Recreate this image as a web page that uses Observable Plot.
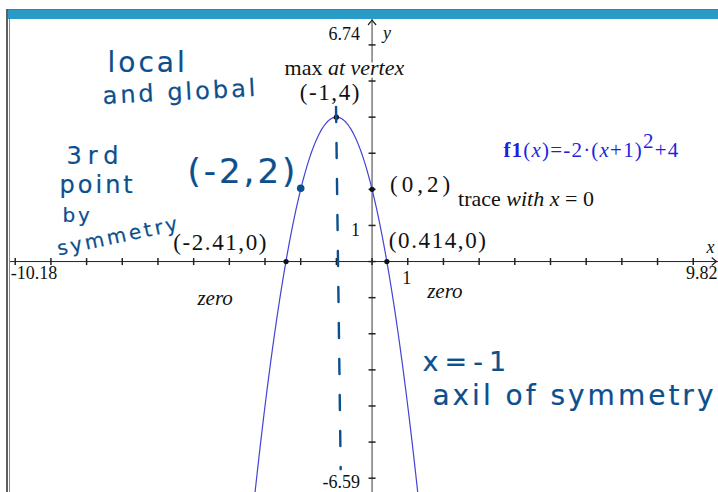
<!DOCTYPE html>
<html>
<head>
<meta charset="utf-8">
<script src="https://cdn.jsdelivr.net/npm/d3@7"></script>
<script src="https://cdn.jsdelivr.net/npm/@observablehq/plot@0.6"></script>
<style>
  body { margin: 0; background: #fff; }
  #screen { position: relative; width: 718px; height: 492px; overflow: hidden; background: #fff; }
  #screen svg { position: absolute; left: 0; top: 0; }
  .edge { position: absolute; }
  .hand text { letter-spacing: 3px; }
  .hand-wide text { letter-spacing: 6px; }
  .coord text { letter-spacing: 1.6px; }
  .coord-wide text { letter-spacing: 4px; }
  .formula text { letter-spacing: 1.2px; }
</style>
</head>
<body>
<div id="screen"></div>
<script>
// Graph window
const xDomain = [-10.18, 9.82];
const yDomain = [-6.59, 6.74];
const xTicks = d3.range(-10, 10);
const yTicks = d3.range(-6, 7);

// f1(x) = -2(x+1)^2 + 4
const f1 = x => -2 * (x + 1) ** 2 + 4;
const curve = d3.range(-3.4, 1.4001, 0.02).map(x => ({x, y: f1(x)}));

// Key points on f1
const vertex = [{x: -1, y: 4, label: "(-1,4)"}];
const yIntercept = [{x: 0, y: 2, label: "(0,2)"}];
const zeroLeft = [{x: -2.41, y: 0, label: "(-2.41,0)"}];
const zeroRight = [{x: 0.414, y: 0, label: "(0.414,0)"}];
const mirrorPoint = [{x: -2, y: 2}];

// Hand-drawn axis of symmetry (x = -1), drawn slightly slanted
const symmetryStroke = [{x: -1.01, y: 4.28}, {x: -0.88, y: -5.75}];

// Window-edge tick labels
const topLabel = [{x: 0, y: 6.74, text: "6.74"}];
const bottomLabel = [{x: 0, y: -6.59, text: "-6.59"}];
const leftLabel = [{x: -10.18, y: 0, text: "-10.18"}];
const rightLabel = [{x: 9.82, y: 0, text: "9.82"}];
const unitX = [{x: 1, y: 0, text: "1"}];
const unitY = [{x: 0, y: 1, text: "1"}];

// Handwritten notes (anchored in graph units)
const notes = {
  local:     {x: -6.29, y: 5.50, text: "local"},
  global:    {x: -5.37, y: 4.69, text: "and global"},
  third:     {x: -7.75, y: 2.92, text: "3rd"},
  point:     {x: -7.69, y: 2.12, text: "point"},
  by:        {x: -8.25, y: 1.28, text: "by"},
  symmetry:  {x: -7.10, y: 0.70, text: "symmetry"},
  pair:      {x: -3.62, y: 2.47, text: "(-2,2)"},
  equation:  {x: 2.67,  y: -2.78, text: "x=-1"},
  axisNote:  {x: 5.67,  y: -3.72, text: "axil of symmetry"}
};

// Mixed-style label contents: [text, style]
const richLabels = {
  "lbl-max":     [["max ", ""], ["at vertex", "i"]],
  "lbl-trace":   [["trace ", ""], ["with x", "i"], [" = 0", ""]],
  "lbl-formula": [["f1", "b"], ["(", ""], ["x", "i"], [")=-2·(", ""], ["x", "i"], ["+1)", ""], ["2", "sup"], ["+4", ""]]
};

const INK = "#0c4f8e";
const CURVE = "#4343d6";
const SERIF = "Liberation Serif, Times New Roman, serif";

const vtick = {draw(ctx, size) { const r = Math.sqrt(size / Math.PI); ctx.moveTo(0, -r); ctx.lineTo(0, r); }};
const htick = {draw(ctx, size) { const r = Math.sqrt(size / Math.PI); ctx.moveTo(-r, 0); ctx.lineTo(r, 0); }};
const caret = {draw(ctx, size) { const r = Math.sqrt(size / Math.PI); ctx.moveTo(-r, r * 1.2); ctx.lineTo(0, 0); ctx.lineTo(r, r * 1.2); }};

const tiText = (data, opts) => Plot.text(data, {
  x: "x", y: "y", fontFamily: SERIF, fill: "#111",
  stroke: "white", strokeWidth: 5, lineAnchor: "middle", ...opts
});
const hand = (d, opts) => Plot.text([d], {
  x: "x", y: "y", text: "text", fill: INK, stroke: INK, strokeWidth: 0.2,
  fontFamily: "DejaVu Sans", fontSize: 26, lineAnchor: "middle", className: "hand", ...opts
});

const svg = Plot.plot({
  width: 718,
  height: 492,
  marginLeft: 9,
  marginRight: 0,
  marginTop: 19,
  marginBottom: 0,
  x: {domain: xDomain, range: [8.3, 722], axis: null},
  y: {domain: yDomain, range: [499, 17.7], axis: null},
  style: {fontFamily: SERIF, background: "white"},
  marks: [
    // axes
    Plot.ruleX([0], {stroke: "#7c7c7c", strokeWidth: 1.5}),
    Plot.ruleY([0], {stroke: "#222", strokeWidth: 1}),
    Plot.dot(xTicks, {x: d => d, y: () => 0, symbol: vtick, r: 3.5, stroke: "#222", fill: "none"}),
    Plot.dot(yTicks, {x: () => 0, y: d => d, symbol: htick, r: 3.5, stroke: "#222", fill: "none"}),
    Plot.dot(topLabel, {x: "x", y: "y", symbol: caret, r: 4, stroke: "#222", fill: "none", strokeWidth: 1.2, dy: 2}),
    Plot.dot(rightLabel, {x: "x", y: "y", symbol: caret, rotate: 90, r: 4, stroke: "#222", fill: "none", strokeWidth: 1.2, dx: -6}),

    // f1
    Plot.line(curve, {x: "x", y: "y", stroke: CURVE, strokeWidth: 1.2, clip: true}),

    // tick labels
    tiText(topLabel, {text: "text", textAnchor: "end", fontSize: 18, dx: -12, dy: 16, strokeWidth: 0}),
    tiText(bottomLabel, {text: "text", textAnchor: "end", fontSize: 18, dx: -12, dy: -17, strokeWidth: 0}),
    tiText(leftLabel, {text: "text", textAnchor: "start", fontSize: 18, dx: 2, dy: 12, strokeWidth: 0}),
    tiText(rightLabel, {text: "text", textAnchor: "end", fontSize: 18, dx: -5, dy: 12, strokeWidth: 0}),
    tiText(unitX, {text: "text", fontSize: 18, dx: -1, dy: 17, strokeWidth: 0}),
    tiText(unitY, {text: "text", textAnchor: "end", fontSize: 18, dx: -12, dy: 5, strokeWidth: 0}),
    tiText(rightLabel, {text: () => "x", fontStyle: "italic", fontSize: 18, dx: -12, dy: -14, strokeWidth: 0}),
    tiText(topLabel, {text: () => "y", fontStyle: "italic", fontSize: 18, dx: 15, dy: 15, strokeWidth: 0}),

    // point labels
    tiText(vertex, {text: () => "max at vertex", fontSize: 22, dx: 8, dy: -49, className: "lbl-max"}),
    tiText(vertex, {text: "label", fontSize: 23, dx: -6, dy: -25, className: "coord"}),
    tiText(yIntercept, {text: "label", textAnchor: "start", fontSize: 23, dx: 18, dy: -5, className: "coord-wide"}),
    tiText(yIntercept, {text: () => "trace with x = 0", textAnchor: "start", fontSize: 22, dx: 86, dy: 10, className: "lbl-trace"}),
    tiText(zeroLeft, {text: "label", textAnchor: "end", fontSize: 23, dx: -18, dy: -19, className: "coord"}),
    tiText(zeroRight, {text: "label", textAnchor: "start", fontSize: 23, dx: 2, dy: -21, className: "coord"}),
    tiText(zeroLeft, {text: () => "zero", fontStyle: "italic", fontSize: 21, dx: -71, dy: 37}),
    tiText(zeroRight, {text: () => "zero", fontStyle: "italic", fontSize: 21, dx: 58, dy: 30}),
    tiText([{x: 3.68, y: 3.08}], {text: () => "f1(x)=-2·(x+1)²+4", textAnchor: "start", fontSize: 21,
      fill: "#1f1fe0", strokeWidth: 0, className: "lbl-formula formula"}),

    // points
    Plot.dot([...vertex, ...yIntercept, ...zeroLeft, ...zeroRight], {x: "x", y: "y", r: 2.6, fill: "#111"}),

    // handwriting
    Plot.line(symmetryStroke, {x: "x", y: "y", stroke: INK, strokeWidth: 2.4, strokeDasharray: "15 21", strokeLinecap: "round"}),
    Plot.dot(mirrorPoint, {x: "x", y: "y", r: 3.8, fill: INK, dy: -1}),
    hand(notes.local, {fontSize: 28}),
    hand(notes.global, {fontSize: 24, rotate: -3}),
    hand(notes.third, {fontSize: 24, className: "hand-wide"}),
    hand(notes.point, {fontSize: 24}),
    hand(notes.by, {fontSize: 20}),
    hand(notes.symmetry, {fontSize: 20, rotate: -12}),
    hand(notes.pair, {fontSize: 34}),
    hand(notes.equation, {fontSize: 27, className: "hand-wide"}),
    hand(notes.axisNote, {fontSize: 28})
  ]
});

// Rebuild mixed-style labels as tspans
for (const [cls, segments] of Object.entries(richLabels)) {
  d3.select(svg).selectAll(`g.${cls} text`).each(function () {
    const t = d3.select(this);
    t.text(null);
    let raised = false;
    for (const [s, style] of segments) {
      const span = t.append("tspan").text(s);
      if (style.includes("i")) span.attr("font-style", "italic");
      if (style.includes("b")) span.attr("font-weight", "bold");
      if (style === "sup") { span.attr("dy", "-0.45em"); raised = true; }
      else if (raised) { span.attr("dy", "0.45em"); raised = false; }
    }
  });
}

const screen = document.getElementById("screen");
screen.appendChild(svg);

// Window chrome: title bar and frame edges
const edges = [
  {left: 6, top: 9, width: 712, height: 1, background: "#6f6f6f"},
  {left: 7, top: 10, width: 711, height: 9, background: "#2a9bc6"},
  {left: 6, top: 9, width: 1.5, height: 483, background: "#5f5f5f"},
  {left: 8.5, top: 19, width: 1, height: 473, background: "#8a8a8a"}
];
for (const e of edges) {
  const div = document.createElement("div");
  div.className = "edge";
  div.style.left = e.left + "px";
  div.style.top = e.top + "px";
  div.style.width = e.width + "px";
  div.style.height = e.height + "px";
  div.style.background = e.background;
  screen.appendChild(div);
}
</script>
</body>
</html>
